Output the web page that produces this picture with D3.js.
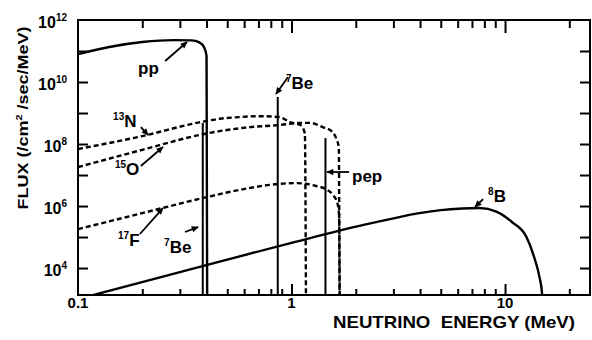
<!DOCTYPE html>
<html>
<head>
<meta charset="utf-8">
<script src="https://cdn.jsdelivr.net/npm/d3@7"></script>
<style>
  body { margin: 0; background: #fff; }
  text { font-family: "Liberation Sans", Arial, sans-serif; font-weight: bold; fill: #000; }
  .tick line { stroke: #000; stroke-width: 2; }
  .domain { display: none; }
</style>
</head>
<body>
<div id="chart"></div>
<script>
// continuum spectra, [energy (MeV), flux (/cm2/sec/MeV)]
var ppSpectrum = [[0.1, 7.9e10], [0.14, 1.35e11], [0.2, 1.95e11], [0.28, 2.25e11], [0.34, 2.2e11],
  [0.37, 1.9e11], [0.39, 1.3e11], [0.40, 7e10], [0.403, 1e2]]
var n13Spectrum = [[0.1, 6.9e7], [0.2, 1.8e8], [0.37, 5e8], [0.46, 6.5e8], [0.57, 7.4e8], [0.71, 7.9e8],
  [0.88, 7.4e8], [0.98, 5.1e8], [1.1, 4.1e8], [1.155, 2.2e8], [1.17, 1e2]]
var o15Spectrum = [[0.1, 1.8e7], [0.2, 6.5e7], [0.37, 1.95e8], [0.46, 2.6e8], [0.64, 3.5e8], [0.88, 4.1e8],
  [1.1, 4.8e8], [1.22, 4.8e8], [1.4, 3.5e8], [1.55, 2.5e8], [1.63, 1.35e8], [1.665, 8e7], [1.68, 1e2]]
var f17Spectrum = [[0.1, 1.8e5], [0.2, 5.9e5], [0.37, 1.7e6], [0.57, 3.3e6], [0.79, 4.8e6], [1.04, 5.5e6],
  [1.29, 4.5e6], [1.47, 3.3e6], [1.57, 2.2e6], [1.64, 1.25e6], [1.67, 5e5], [1.685, 1e2]]
var b8Spectrum = [[0.1, 1e3], [0.3, 7.4e3], [1, 6.5e4], [2.2, 2.5e5], [3.2, 4.4e5], [3.9, 5.8e5],
  [5.0, 7.4e5], [6.3, 8.3e5], [7.6, 8.6e5], [9.1, 6.6e5], [10.8, 3.0e5], [12.6, 1.0e5],
  [13.7, 2.2e4], [14.5, 5.1e3], [14.9, 1.55e3], [15.2, 1e2]]

// line sources (7Be 0.38, 7Be 0.86, pep)
var lineEnergies = [0.384, 0.862, 1.442]
var lineFluxes = [4.8e8, 3.3e9, 1.55e8]

// tick labels
var xTickLabels = [0.1, 1, 10]
var yLabelExponents = [4, 6, 8, 10, 12]

// species labels, anchored in data units: text start, arrow tail, arrow tip
var speciesLabels = [
  {sup: "", name: "pp", at: [0.191, 3.0e10], from: [0.256, 4.75e10], to: [0.324, 1.95e11]},
  {sup: "7", name: "Be", at: [0.942, 5.9e9], from: [0.963, 1.45e10], to: [0.846, 4.1e9]},
  {sup: "", name: "pep", at: [1.92, 1e7], from: [1.86, 1.25e7], to: [1.466, 1.25e7]},
  {sup: "8", name: "B", at: [8.33, 1.35e6], from: [7.89, 1.68e6], to: [7.24, 9.3e5]},
  {sup: "13", name: "N", at: [0.146, 3.5e8], from: [0.197, 3.5e8], to: [0.213, 1.95e8]},
  {sup: "15", name: "O", at: [0.149, 1e7], from: [0.197, 1.95e7], to: [0.25, 8.0e7]},
  {sup: "17", name: "F", at: [0.154, 5.1e4], from: [0.195, 1.25e5], to: [0.25, 8.6e5]},
  {sup: "7", name: "Be", at: [0.253, 3.05e4], from: [0.317, 1.45e5], to: [0.365, 2.1e5]}
]

var width = 592, height = 340
var plotLeft = 78, plotRight = 590, plotTop = 20, plotBottom = 295

var x = d3.scaleLog().domain([0.1, 25]).range([plotLeft, plotRight])
var y = d3.scaleLog().domain([1.35e3, 1e12]).range([plotBottom, plotTop])

var svg = d3.select("#chart")
  .append("svg")
    .attr("width", width)
    .attr("height", height)

var defs = svg.append("defs")
defs.append("clipPath")
    .attr("id", "plotClip")
  .append("rect")
    .attr("x", plotLeft)
    .attr("y", plotTop)
    .attr("width", plotRight - plotLeft)
    .attr("height", plotBottom - plotTop)

defs.append("marker")
    .attr("id", "head")
    .attr("viewBox", "0 0 10 10")
    .attr("refX", 9)
    .attr("refY", 5)
    .attr("markerUnits", "userSpaceOnUse")
    .attr("markerWidth", 8)
    .attr("markerHeight", 7)
    .attr("orient", "auto")
  .append("path")
    .attr("d", "M0,0.5L10,5L0,9.5z")

// ticks
var minorTicks = []
;[0.1, 1, 10].forEach(function(d) {
  for (var k = 2; k <= 9; k++) if (d * k <= 25) minorTicks.push(d * k)
})
var majorTicks = [1, 10]
var decades = d3.range(4, 12).map(function(e) { return Math.pow(10, e) })

svg.append("g")
    .attr("transform", "translate(0," + plotBottom + ")")
    .call(d3.axisBottom(x).tickValues(minorTicks).tickSize(-6).tickFormat(""))
svg.append("g")
    .attr("transform", "translate(0," + plotBottom + ")")
    .call(d3.axisBottom(x).tickValues(majorTicks).tickSize(-11).tickFormat(""))
svg.append("g")
    .attr("transform", "translate(0," + plotTop + ")")
    .call(d3.axisTop(x).tickValues(minorTicks).tickSize(-8).tickFormat(""))
svg.append("g")
    .attr("transform", "translate(0," + plotTop + ")")
    .call(d3.axisTop(x).tickValues(majorTicks).tickSize(-13).tickFormat(""))
svg.append("g")
    .attr("transform", "translate(" + plotLeft + ",0)")
    .call(d3.axisLeft(y).tickValues(decades).tickSize(-10).tickFormat(""))
svg.append("g")
    .attr("transform", "translate(" + plotRight + ",0)")
    .call(d3.axisRight(y).tickValues(decades).tickSize(-10).tickFormat(""))

// frame
svg.append("rect")
    .attr("x", plotLeft)
    .attr("y", plotTop)
    .attr("width", plotRight - plotLeft)
    .attr("height", plotBottom - plotTop)
    .attr("fill", "none")
    .attr("stroke", "#000")
    .attr("stroke-width", 2)

// tick labels
svg.selectAll(".xlab")
  .data(xTickLabels)
  .enter().append("text")
    .attr("x", function(d) { return x(d) })
    .attr("y", plotBottom + 13)
    .attr("text-anchor", "middle")
    .style("font-size", "15px")
    .text(function(d) { return d })

var ylab = svg.selectAll(".ylab")
  .data(yLabelExponents)
  .enter().append("text")
    .attr("x", plotLeft - 11)
    .attr("y", function(d) { return y(Math.pow(10, d)) + 8 })
    .attr("text-anchor", "end")
    .style("font-size", "16px")
ylab.append("tspan").text("10")
ylab.append("tspan")
    .attr("dy", -7)
    .style("font-size", "10px")
    .text(function(d) { return d })

// axis titles
svg.append("text")
    .attr("x", 454)
    .attr("y", plotBottom + 33)
    .attr("text-anchor", "middle")
    .attr("textLength", 242)
    .attr("lengthAdjust", "spacingAndGlyphs")
    .style("font-size", "17px")
    .style("white-space", "pre")
    .text("NEUTRINO  ENERGY (MeV)")

var ytitle = svg.append("text")
    .attr("transform", "translate(28,118) rotate(-90)")
    .attr("text-anchor", "middle")
    .attr("textLength", 183)
    .attr("lengthAdjust", "spacingAndGlyphs")
    .style("font-size", "15px")
ytitle.append("tspan").text("FLUX (/cm")
ytitle.append("tspan").attr("dy", -6).style("font-size", "9px").text("2")
ytitle.append("tspan").attr("dy", 6).text(" /sec/MeV)")

// spectra
var plot = svg.append("g").attr("clip-path", "url(#plotClip)")

var line = d3.line()
    .x(function(d) { return x(d[0]) })
    .y(function(d) { return y(d[1]) })
    .curve(d3.curveMonotoneX)

plot.selectAll(".solid")
  .data([ppSpectrum, b8Spectrum])
  .enter().append("path")
    .attr("d", line)
    .attr("fill", "none")
    .attr("stroke", "#000")
    .attr("stroke-width", 2.4)

plot.selectAll(".dashed")
  .data([n13Spectrum, o15Spectrum, f17Spectrum])
  .enter().append("path")
    .attr("d", line)
    .attr("fill", "none")
    .attr("stroke", "#000")
    .attr("stroke-width", 2.4)
    .attr("stroke-dasharray", "5,3")

plot.selectAll(".spike")
  .data(lineEnergies)
  .enter().append("line")
    .attr("x1", function(d) { return x(d) })
    .attr("x2", function(d) { return x(d) })
    .attr("y1", plotBottom)
    .attr("y2", function(d, i) { return y(lineFluxes[i]) })
    .attr("stroke", "#000")
    .attr("stroke-width", 2)

// species labels and arrows
svg.selectAll(".arrow")
  .data(speciesLabels)
  .enter().append("line")
    .attr("x1", function(d) { return x(d.from[0]) })
    .attr("y1", function(d) { return y(d.from[1]) })
    .attr("x2", function(d) { return x(d.to[0]) })
    .attr("y2", function(d) { return y(d.to[1]) })
    .attr("stroke", "#000")
    .attr("stroke-width", 1.8)
    .attr("marker-end", "url(#head)")

var lab = svg.selectAll(".species")
  .data(speciesLabels)
  .enter().append("text")
    .attr("x", function(d) { return x(d.at[0]) })
    .attr("y", function(d) { return y(d.at[1]) })
    .style("font-size", "17px")
lab.append("tspan")
    .attr("dy", -7)
    .style("font-size", "10px")
    .text(function(d) { return d.sup })
lab.append("tspan")
    .attr("dy", 7)
    .text(function(d) { return d.name })
</script>
</body>
</html>
